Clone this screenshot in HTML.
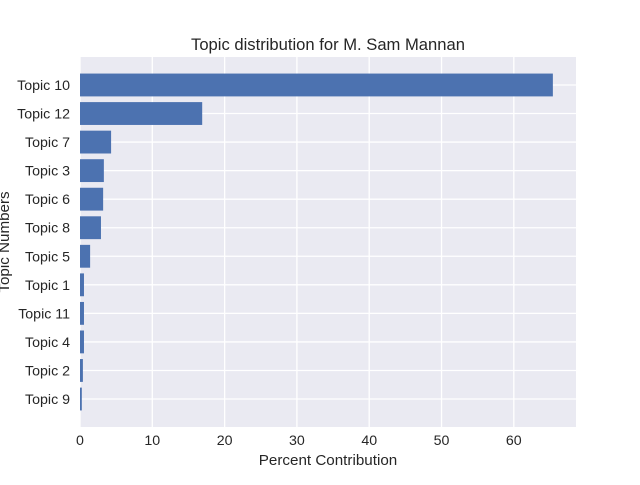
<!DOCTYPE html>
<html><head><meta charset="utf-8"><style>
body{margin:0;background:#fff;}
svg{font-family:"Liberation Sans","DejaVu Sans",sans-serif;}
</style></head><body>
<svg id="chart" width="640" height="480">
<rect x="80" y="57" width="496" height="370" fill="#EAEAF2"/>
<g id="grid"></g><g id="bars"></g><g id="yticks"></g><g id="xticks"></g>
<text x="328" y="50" text-anchor="middle" font-size="16.6" fill="#262626">Topic distribution for M. Sam Mannan</text>
<text x="328" y="465" text-anchor="middle" font-size="15.2" fill="#262626">Percent Contribution</text>
<text transform="translate(9,242) rotate(-90)" text-anchor="middle" font-size="15.2" fill="#262626">Topic Numbers</text>
</svg>
<script>
const categories=["Topic 10","Topic 12","Topic 7","Topic 3","Topic 6","Topic 8","Topic 5","Topic 1","Topic 11","Topic 4","Topic 2","Topic 9"];
const values=[65.4,16.9,4.3,3.3,3.2,2.9,1.4,0.55,0.55,0.55,0.4,0.25];
const xTicks=[0,10,20,30,40,50,60];
const NS="http://www.w3.org/2000/svg";
const L=80,R=576,T=57,B=427,xmax=68.6;
const n=categories.length;
const xs=v=>L+v/xmax*(R-L);
const step=(B-T)/(n-1+2*0.98);
const ys=i=>T+0.98*step+i*step;
function mk(t,a,p){const e=document.createElementNS(NS,t);for(const k in a)e.setAttribute(k,a[k]);document.getElementById(p).appendChild(e);return e;}
xTicks.forEach(t=>{
 const g=mk('line',{x1:xs(t),x2:xs(t),y1:T,y2:B,stroke:'#fff','stroke-width':1.3},'grid');
 
 
 const l=mk('text',{x:xs(t),y:B+18,'text-anchor':'middle','font-size':14.2,fill:'#262626'},'xticks');
 l.textContent=t;
 
 
});
categories.forEach((c,i)=>{
 const g=mk('line',{x1:L,x2:R,y1:ys(i),y2:ys(i),stroke:'#fff','stroke-width':1.3},'grid');
 
 
 const h=step*0.8;
 const b=mk('rect',{x:L,y:ys(i)-h/2,width:xs(values[i])-L,height:h,fill:'#4C72B0'},'bars');
 
 
 const l=mk('text',{x:L-10,y:ys(i)+5,'text-anchor':'end','font-size':14.2,fill:'#262626'},'yticks');
 l.textContent=c;
 
 
});
</script>
</body></html>
